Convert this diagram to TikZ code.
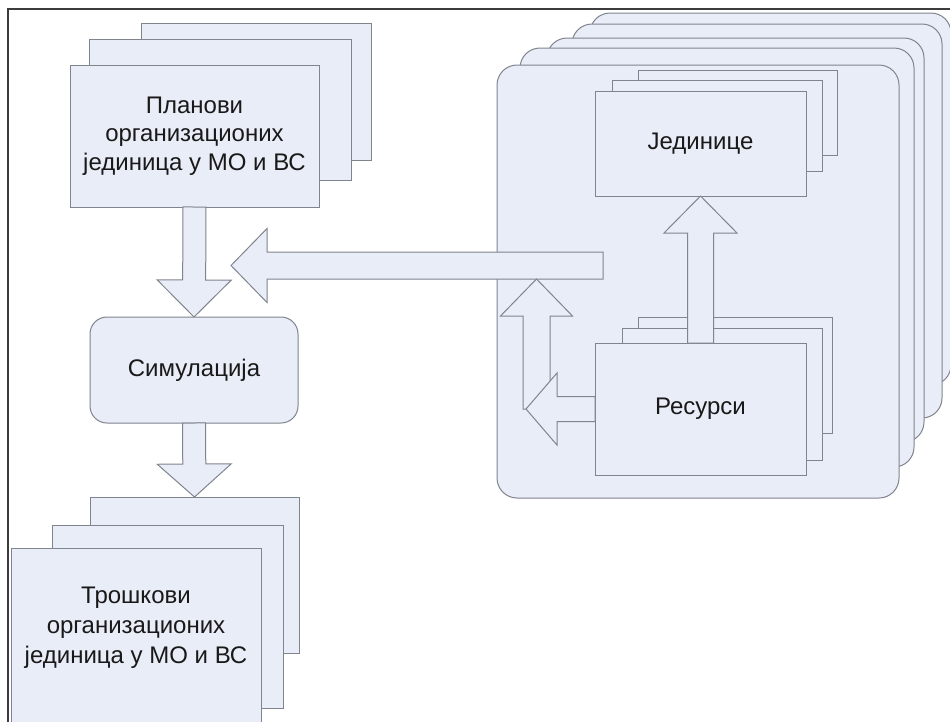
\documentclass[tikz,border=0pt]{standalone}
\usepackage{fontspec}
\setmainfont{Liberation Sans}
\usetikzlibrary{calc}
\definecolor{fcol}{RGB}{233,237,247}
\definecolor{bcol}{RGB}{128,132,142}
\definecolor{tcol}{RGB}{25,25,25}
\definecolor{framecol}{RGB}{60,60,60}
\tikzset{
  box/.style={draw=bcol, fill=fcol, line width=1pt, inner sep=0pt, outer sep=0pt,
    align=center, text=tcol, font=\fontsize{24}{28.5}\selectfont},
  grp/.style={box, rounded corners=20pt},
  blk/.style={draw=bcol, fill=fcol, line width=1pt, line join=miter},
}
% block arrow: from, to, shaft half width, head half width, head length
\newcommand\blockarr[5]{%
  \path ($(#2)!#5!(#1)$) coordinate (bahead);
  \draw[blk] ($(#1)!#3!90:(#2)$) -- ($(bahead)!#3!-90:(#1)$) -- ($(bahead)!#4!-90:(#1)$)
    -- (#2) -- ($(bahead)!#4!90:(#1)$) -- ($(bahead)!#3!90:(#1)$) -- ($(#1)!#3!-90:(#2)$) -- cycle;
}
\begin{document}
\begin{tikzpicture}[x=1pt,y=-1pt]
\useasboundingbox (0,0) rectangle (950,721);
\clip (0,0) rectangle (950,721);
\fill[white] (0,0) rectangle (950,721);
% frame
\draw[framecol, line width=1.3pt] (8,730) -- (8,9) -- (960,9);

% right group
\node[grp, minimum width=361, minimum height=372] (g5) at (770.5,199) {};
\node[grp, minimum width=370, minimum height=394] (g4) at (757,221) {};
\node[grp, minimum width=377, minimum height=404] (g3) at (735.5,240) {};
\node[grp, minimum width=394, minimum height=419] (g2) at (717,257.5) {};
\node[grp, minimum width=402, minimum height=433] (g1) at (698,281.5) {};

\node[box, minimum width=199, minimum height=85] (jed3) at (737.5,112.5) {};
\node[box, minimum width=210, minimum height=91] (jed2) at (717,125.5) {};
\node[box, minimum width=211, minimum height=105] (jed) at (700.5,143.5) {Јединице};

\node[box, minimum width=194, minimum height=116] (res3) at (735,375) {};
\node[box, minimum width=200, minimum height=132] (res2) at (722,394) {};
\node[box, minimum width=211, minimum height=132] (res) at (700.5,409) {Ресурси};

% left column
\node[box, minimum width=230, minimum height=137] (plan3) at (256,91.5) {};
\node[box, minimum width=262, minimum height=141] (plan2) at (220,109.5) {};
\node[box, minimum width=249, minimum height=142] (plan) at (194.5,136)
  {Планови\\организационих\\јединица у МО и ВС};

\node[box, rounded corners=17pt, minimum width=208, minimum height=106] (sim) at (194,370) {Симулација};

\node[box, minimum width=209, minimum height=156] (trosk3) at (194.5,575) {};
\node[box, minimum width=231, minimum height=183] (trosk2) at (167.5,616.5) {};
\node[box, minimum width=250, minimum height=212] (trosk) at (136,654) {};
\node[align=center, text=tcol, inner sep=0pt, font=\fontsize{24}{30}\selectfont] (trosktxt) at (136,628)
  {Трошкови\\организационих\\јединица у МО и ВС};

% coordinates for free arrow ends
\coordinate (fbstart) at (603,265.5);
\coordinate (fbtip) at (231,265.5);
\coordinate (vbot) at (536.5,409);
\coordinate (vtop) at (536.5,279);
\coordinate (ltip) at (526,409);

% arrows
\blockarr{plan.south}{sim.north}{11.5pt}{37pt}{37pt}
\blockarr{sim.south}{trosk3.north}{11.5pt}{37pt}{33pt}
\blockarr{fbstart}{fbtip}{13.5pt}{37pt}{36pt}
\blockarr{res.north}{jed.south}{13pt}{36.5pt}{37pt}
\blockarr{vbot}{vtop}{13.5pt}{36pt}{37pt}
\blockarr{res.west}{ltip}{12.5pt}{36pt}{31pt}
\end{tikzpicture}
\end{document}
